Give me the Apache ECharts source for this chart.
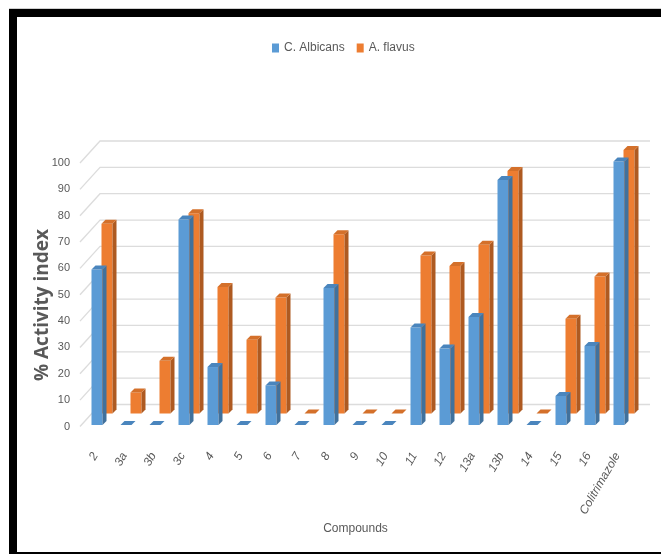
<!DOCTYPE html>
<html>
<head>
<meta charset="utf-8">
<script src="https://cdn.jsdelivr.net/npm/echarts@6/dist/echarts.min.js"></script>
<style>
html,body{margin:0;padding:0;background:#fff;}
#wrap{position:relative;width:661px;height:554px;overflow:hidden;}
#chart{position:absolute;left:0;top:0;width:661px;height:554px;}
#frame{position:absolute;left:9px;top:9px;width:652px;height:545px;box-sizing:border-box;
  border-top:8px solid #000;border-left:8px solid #000;border-bottom:2px solid #000;pointer-events:none;}
#topline{position:absolute;left:9px;top:8px;width:652px;height:1px;background:#d0d0d0;}
</style>
</head>
<body>
<div id="wrap">
  <div id="chart"></div>
  <div id="topline"></div>
  <div id="frame"></div>
</div>
<script>
const categories = ['2','3a','3b','3c','4','5','6','7','8','9','10','11','12','13a','13b','14','15','16','Colitrimazole'];
const albicans = [59, 0, 0, 78, 22, 0, 15, 0, 52, 0, 0, 37, 29, 41, 93, 0, 11, 30, 100];
const flavus   = [72, 8, 20, 76, 48, 28, 44, 0, 68, 0, 0, 60, 56, 64, 92, 0, 36, 52, 100];
const yTicks   = [0, 10, 20, 30, 40, 50, 60, 70, 80, 90, 100];

const FONT = "'Liberation Sans Narrow', 'Arial Narrow', 'Liberation Sans', sans-serif";
const W = 11, D = 4;

function barRenderer(offX, offY, cFront, cSide, cTop) {
  return function (params, api) {
    const idx = api.value(0), v = api.value(1);
    const base = api.coord([idx, 0]);
    const tp = api.coord([idx, v]);
    const x0 = base[0] + offX, x1 = x0 + W;
    const yb = base[1] + offY, yt = tp[1] + offY;
    return {
      type: 'group',
      children: [
        { type: 'rect', shape: { x: x0, y: yt, width: W, height: yb - yt }, style: { fill: cFront } },
        { type: 'polygon', shape: { points: [[x1, yb], [x1 + D, yb - D], [x1 + D, yt - D], [x1, yt]] }, style: { fill: cSide } },
        { type: 'polygon', shape: { points: [[x0, yt], [x0 + D, yt - D], [x1 + D, yt - D], [x1, yt]] }, style: { fill: cTop } }
      ]
    };
  };
}

function gridRenderer(params, api) {
  const v = api.value(1);
  const band = api.size([1, 0])[0];
  const first = api.coord([0, v]);
  const last = api.coord([categories.length - 1, v]);
  const xl = first[0] - band / 2 - 5;
  const xr = last[0] + band / 2 + 14;
  const y = first[1];
  return {
    type: 'polyline',
    shape: { points: [[xl, y], [xl + 20, y - 22], [xr, y - 22]] },
    style: { stroke: '#dcdcdc', lineWidth: 1.3, fill: null }
  };
}

const chart = echarts.init(document.getElementById('chart'), null, { renderer: 'canvas' });
chart.setOption({
  animation: false,
  backgroundColor: '#fff',
  legend: {
    data: ['C. Albicans', 'A. flavus'],
    left: 267, top: 37,
    icon: 'rect', itemWidth: 7, itemHeight: 9, itemGap: 12,
    textStyle: { fontFamily: FONT, fontSize: 12, color: '#595959' }
  },
  grid: { left: 85, right: 25, top: 163, bottom: 127.5 },
  xAxis: {
    type: 'category',
    data: categories,
    name: 'Compounds',
    nameLocation: 'middle',
    nameGap: 96,
    nameTextStyle: { fontFamily: FONT, fontSize: 12, color: '#595959', padding: [0, 10, 0, 0] },
    axisLine: { show: false },
    axisTick: { show: false },
    splitLine: { show: false },
    axisLabel: {
      interval: 0, rotate: 60, margin: 20, padding: [0, 8, 0, 0],
      fontFamily: FONT, fontSize: 12, fontStyle: 'italic', color: '#595959'
    }
  },
  yAxis: {
    type: 'value',
    min: 0, max: 100, interval: 10,
    axisLine: { show: false },
    axisTick: { show: false },
    splitLine: { show: false },
    axisLabel: { margin: 15, fontFamily: FONT, fontSize: 11, color: '#595959' }
  },
  graphic: [{
    type: 'text', x: 43, y: 305, rotation: Math.PI / 2,
    style: {
      text: '% Activity index', textAlign: 'center', textVerticalAlign: 'middle',
      font: "bold 19px 'Open Sans', 'Liberation Sans', sans-serif", fill: '#595959'
    }
  }],
  series: [
    {
      type: 'custom', name: 'gridlines', silent: true, z: 1,
      renderItem: gridRenderer,
      encode: { x: 0, y: 1 },
      data: yTicks.map(t => [0, t])
    },
    {
      type: 'custom', name: 'A. flavus', z: 2,
      itemStyle: { color: '#ED7D31' },
      renderItem: barRenderer(2, -13, '#ED7D31', '#AE5A21', '#D4702A'),
      encode: { x: 0, y: 1 },
      data: flavus.map((v, i) => [i, v])
    },
    {
      type: 'custom', name: 'C. Albicans', z: 3,
      itemStyle: { color: '#5B9BD5' },
      renderItem: barRenderer(-8, -1.5, '#5B9BD5', '#41719C', '#4A85BD'),
      encode: { x: 0, y: 1 },
      data: albicans.map((v, i) => [i, v])
    }
  ]
});
</script>
</body>
</html>
